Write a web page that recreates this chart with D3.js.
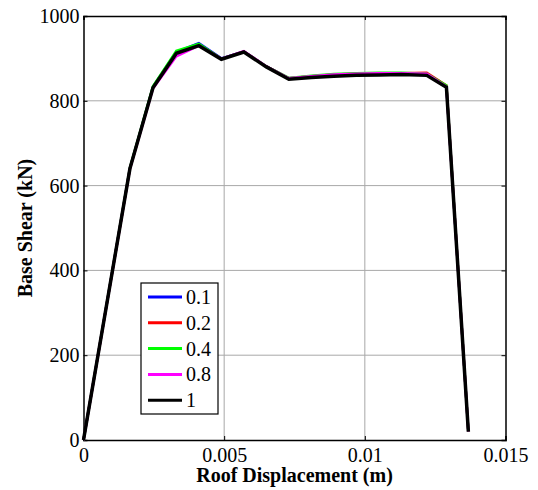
<!DOCTYPE html>
<html>
<head>
<meta charset="utf-8">
<script src="https://cdn.jsdelivr.net/npm/d3@7"></script>
<style>
  body { margin: 0; background: #fff; }
  text { font-family: "Liberation Serif", "Times New Roman", serif; }
</style>
</head>
<body>
<div id="chart"></div>
<script>
// displacement (m) shared by all curves
const disp = [0, 0.00165, 0.00247, 0.0033, 0.0041, 0.0049, 0.0057, 0.0065, 0.0073,
              0.0081, 0.0089, 0.0097, 0.0105, 0.0113, 0.0122, 0.0129, 0.01368];

// base shear (kN) per load factor
const shear01 = [0, 641, 833, 915, 936, 900, 916, 881, 853, 857, 861, 863, 864, 864, 863, 834, 20];
const shear02 = [0, 640, 832, 913, 933, 899, 916, 881, 853, 858, 862, 864, 865, 865, 866, 836, 20];
const shear04 = [0, 642, 834, 918, 934, 899, 916, 881, 854, 859, 863, 865, 866, 866, 864, 836, 20];
const shear08 = [0, 640, 829, 905, 930, 899, 917, 881, 853, 858, 862, 864, 865, 865, 864, 833, 20];
const shear1  = [0, 640, 831, 912, 930, 898, 915, 880, 851, 855, 858, 860, 861, 862, 860, 832, 20];

const seriesNames = ["0.1", "0.2", "0.4", "0.8", "1"];
const seriesColors = ["#0000ff", "#ff0000", "#00ff00", "#ff00ff", "#000000"];
const seriesData = [shear01, shear02, shear04, shear08, shear1];

const xTicks = [0, 0.005, 0.01, 0.015];
const xTickLabels = ["0", "0.005", "0.01", "0.015"];
const yTicks = [0, 200, 400, 600, 800, 1000];

const width = 538, height = 490;
const margin = {left: 83.5, right: 32.5, top: 16, bottom: 50};

const x = d3.scaleLinear().domain([0, 0.015]).range([margin.left, width - margin.right]);
const y = d3.scaleLinear().domain([0, 1000]).range([height - margin.bottom, margin.top]);

const svg = d3.select("#chart").append("svg")
    .attr("width", width)
    .attr("height", height);

// grid
svg.append("g")
    .attr("stroke", "#a8a8a8")
    .attr("stroke-width", 1)
    .selectAll()
    .data(xTicks.slice(1, -1))
    .join("line")
        .attr("x1", d => x(d)).attr("x2", d => x(d))
        .attr("y1", y(0)).attr("y2", y(1000))
svg.append("g")
    .attr("stroke", "#a8a8a8")
    .attr("stroke-width", 1)
    .selectAll()
    .data(yTicks.slice(1, -1))
    .join("line")
        .attr("y1", d => y(d)).attr("y2", d => y(d))
        .attr("x1", x(0)).attr("x2", x(0.015))

// axes, matlab style: ticks inward, box all round
svg.append("g")
    .attr("transform", `translate(0,${y(0)})`)
    .call(d3.axisBottom(x).tickValues(xTicks).tickSize(-4).tickPadding(8)
        .tickFormat((d, i) => xTickLabels[i]))
svg.append("g")
    .attr("transform", `translate(${x(0)},0)`)
    .call(d3.axisLeft(y).tickValues(yTicks).tickSize(-4).tickPadding(4).tickFormat(d3.format("d")))
svg.append("g")
    .attr("transform", `translate(0,${y(1000)})`)
    .call(d3.axisTop(x).tickValues(xTicks).tickSize(-4).tickFormat(""))
svg.append("g")
    .attr("transform", `translate(${x(0.015)},0)`)
    .call(d3.axisRight(y).tickValues(yTicks).tickSize(-4).tickFormat(""))

svg.selectAll(".domain").attr("stroke", "#000").attr("stroke-width", 1.5)
svg.selectAll(".tick line").attr("stroke", "#000")
svg.selectAll(".tick text")
    .attr("font-family", "Liberation Serif")
    .attr("font-size", 20)
    .attr("fill", "#000")

// curves
const line = d3.line()
    .x((d, i) => x(disp[i]))
    .y(d => y(d))

svg.append("g")
    .attr("fill", "none")
    .attr("stroke-linejoin", "miter")
    .selectAll()
    .data(seriesData)
    .join("path")
        .attr("d", d => line(d))
        .attr("stroke", (d, i) => seriesColors[i])
        .attr("stroke-width", (d, i) => i == 4 ? 3.5 : 2.5)

// axis titles
svg.append("text")
    .attr("x", (x(0) + x(0.015)) / 2)
    .attr("y", 482)
    .attr("text-anchor", "middle")
    .attr("font-weight", "bold")
    .attr("font-size", 20)
    .text("Roof Displacement (m)")

svg.append("text")
    .attr("transform", `translate(32,${(y(0) + y(1000)) / 2}) rotate(-90)`)
    .attr("text-anchor", "middle")
    .attr("font-weight", "bold")
    .attr("font-size", 20)
    .text("Base Shear (kN)")

// legend
const legend = svg.append("g")
legend.append("rect")
    .attr("x", 141).attr("y", 283)
    .attr("width", 77).attr("height", 131)
    .attr("fill", "#fff")
    .attr("stroke", "#000")
    .attr("stroke-width", 1.2)

const item = legend.selectAll(".item")
    .data(seriesNames)
    .join("g")
        .attr("class", "item")
        .attr("transform", (d, i) => `translate(0,${297 + i * 25.8})`)
item.append("line")
    .attr("x1", 148).attr("x2", 182)
    .attr("stroke", (d, i) => seriesColors[i])
    .attr("stroke-width", 3)
item.append("text")
    .attr("x", 186)
    .attr("dy", "0.35em")
    .attr("font-size", 20)
    .text(d => d)
</script>
</body>
</html>
